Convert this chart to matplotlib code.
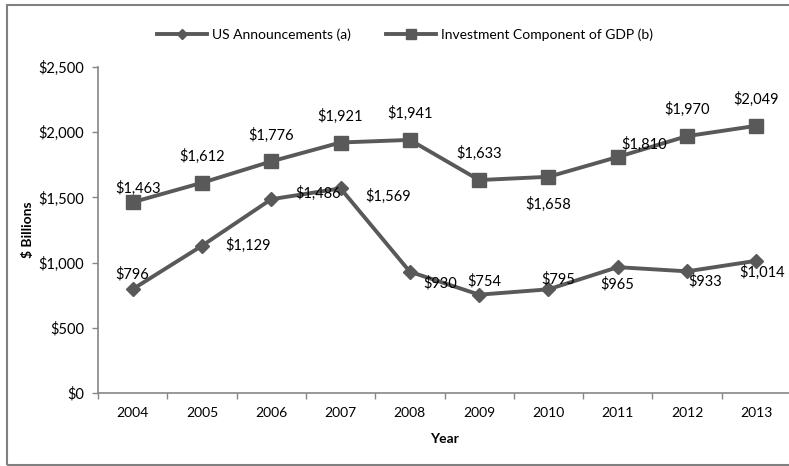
import matplotlib.pyplot as plt
from matplotlib.patches import Rectangle
from matplotlib.lines import Line2D

plt.rcParams['font.family'] = ['Lato', 'DejaVu Sans']

years = ['2004', '2005', '2006', '2007', '2008', '2009', '2010', '2011', '2012', '2013']
us_announcements = [796, 1129, 1486, 1569, 930, 754, 795, 965, 933, 1014]
gdp_investment = [1463, 1612, 1776, 1921, 1941, 1633, 1658, 1810, 1970, 2049]

# label offsets in points (dx, dy) relative to each marker
us_offsets = [(0, 11), (33, 0), (34, 4), (34, -6), (22, -8), (4, 10), (7, 7), (0, -12), (13, -7), (4, -8)]
gdp_offsets = [(4, 10), (0, 19), (0, 19), (0, 19), (0, 19), (0, 19), (0, -20), (19, 9), (0, 19), (0, 19)]

line_col = '#595959'
axis_col = '#868686'

fig = plt.figure(figsize=(7.89, 4.66), dpi=100)
ax = fig.add_axes([98 / 789, 73 / 466, 693 / 789, 326 / 466])

x = list(range(len(years)))
ax.plot(x, us_announcements, color=line_col, lw=2.8, marker='D', ms=7.5, zorder=3)
ax.plot(x, gdp_investment, color=line_col, lw=2.8, marker='s', ms=10, zorder=3)

for xi, v, (dx, dy) in zip(x, us_announcements, us_offsets):
    ax.annotate(f'${v:,}', (xi, v), xytext=(dx, dy), textcoords='offset points',
                ha='center', va='center', fontsize=10.5, color='black', zorder=4)
for xi, v, (dx, dy) in zip(x, gdp_investment, gdp_offsets):
    ax.annotate(f'${v:,}', (xi, v), xytext=(dx, dy), textcoords='offset points',
                ha='center', va='center', fontsize=10.5, color='black', zorder=4)

ax.set_xlim(-0.5, len(years) - 0.5)
ax.set_ylim(0, 2500)
ax.set_yticks(range(0, 2501, 500))
ax.set_yticklabels([f'${v:,}' for v in range(0, 2501, 500)])
ax.set_xticks(x)
ax.set_xticklabels(years)
ax.set_xticks([i - 0.5 for i in range(len(years) + 1)], minor=True)
ax.tick_params(axis='x', which='major', length=0, pad=10, labelsize=10)
ax.tick_params(axis='x', which='minor', length=4, color=axis_col, width=1)
ax.tick_params(axis='y', length=4, color=axis_col, width=1, pad=6, labelsize=10.5)

for side in ['top', 'right']:
    ax.spines[side].set_visible(False)
for side in ['left', 'bottom']:
    ax.spines[side].set_color(axis_col)
    ax.spines[side].set_linewidth(1.2)

ax.set_ylabel('$ Billions', fontsize=10, fontweight='bold', labelpad=3)
ax.set_xlabel('Year', fontsize=10, fontweight='bold', labelpad=10)

handles = [
    Line2D([], [], color=line_col, lw=2.8, marker='D', ms=5),
    Line2D([], [], color=line_col, lw=2.8, marker='s', ms=7),
]
fig.legend(handles, ['US Announcements (a)', 'Investment Component of GDP (b)'],
           loc='center', bbox_to_anchor=(405 / 789, 1 - 35 / 466), ncol=2,
           frameon=False, fontsize=10, handlelength=3.6, columnspacing=2.6,
           handletextpad=0.3)

# outer chart border
fig.add_artist(Rectangle((6.5 / 789, 1.5 / 466), 1.2, 460 / 466, transform=fig.transFigure,
                         fill=False, edgecolor='#808080', lw=1.5))

fig.savefig('out.png', dpi=100)
